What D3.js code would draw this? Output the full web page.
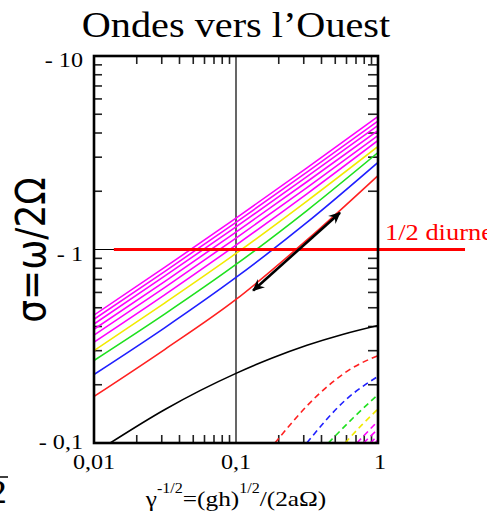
<!DOCTYPE html>
<html><head><meta charset="utf-8">
<script src="https://cdn.jsdelivr.net/npm/d3@7"></script>
<style>html,body{margin:0;padding:0;background:#fff;overflow:hidden}</style>
</head><body>
<svg id="c" width="487" height="523"></svg>
<script>
// ---- data ----
const xTickValues = [0.01, 0.1, 1];
const xTickLabels = ["0,01", "0,1", "1"];
const yTickValues = [0.1, 1, 10];
const yTickLabels = ["- 0,1", "- 1", "- 10"];

// westward gravity waves (solid): sigma at these gamma^-1/2 values
const gravX = [0.01, 0.0316, 0.1, 0.316, 1];
const gravRed     = [0.174, 0.305, 0.552, 1.12, 2.41];
const gravBlue    = [0.226, 0.395, 0.717, 1.38, 2.82];
const gravGreen   = [0.267, 0.465, 0.837, 1.59, 3.17];
const gravYellow  = [0.300, 0.530, 0.954, 1.78, 3.41];
const gravMag1    = [0.332, 0.585, 1.054, 1.94, 3.66];
const gravMag2    = [0.361, 0.637, 1.145, 2.09, 3.88];
const gravMag3    = [0.387, 0.685, 1.229, 2.24, 4.12];
const gravMag4    = [0.412, 0.730, 1.308, 2.38, 4.37];
const gravMag5    = [0.436, 0.771, 1.382, 2.51, 4.61];
const gravMag6    = [0.458, 0.810, 1.453, 2.64, 4.87];

// mixed Rossby-gravity (black solid)
const mrgX = [0.013, 0.0316, 0.0562, 0.1, 0.178, 0.316, 0.562, 1];
const mrgY = [0.1, 0.149, 0.187, 0.229, 0.274, 0.32, 0.364, 0.405];

// Rossby waves (dashed)
const rosRedX = [0.188, 0.37, 0.635, 1];      const rosRedY = [0.1, 0.1746, 0.240, 0.283];
const rosBlueX = [0.315, 0.597, 1];           const rosBlueY = [0.1, 0.168, 0.221];
const rosGreenX = [0.447, 0.67, 1];           const rosGreenY = [0.1, 0.135, 0.178];
const rosYellowX = [0.586, 0.77, 1];          const rosYellowY = [0.1, 0.124, 0.150];
const rosMag1X = [0.71, 1];                   const rosMag1Y = [0.1, 0.130];
const rosMag2X = [0.79, 1];                   const rosMag2Y = [0.1, 0.118];
const rosMag3X = [0.88, 1];                   const rosMag3Y = [0.1, 0.109];
const rosMag4X = [0.953, 1];                  const rosMag4Y = [0.1, 0.104];

// semidiurnal line and arrow
const diurneY = 1;
const diurneX = [0.0138, 4.1];
const arrowX = [0.132, 0.54];
const arrowY = [0.614, 1.55];

// ---- drawing ----
const svg = d3.select("#c");
const L = 94, R = 378, T = 56, B = 443;
const x = d3.scaleLog().domain([0.01, 1]).range([L, R]);
const y = d3.scaleLog().domain([0.1, 10]).range([B, T]);
const SX = 1.15;

function stext(g, px, py, str, size, fam, anchor, color) {
  return g.append("text")
    .attr("transform", `translate(${px},${py}) scale(${SX},1)`)
    .attr("text-anchor", anchor || "start")
    .attr("font-family", fam || "'Liberation Serif', 'Times New Roman', serif")
    .attr("font-size", size)
    .attr("fill", color || "#000")
    .text(str);
}

svg.append("defs").append("clipPath").attr("id", "plot")
  .append("rect").attr("x", L).attr("y", T).attr("width", R - L).attr("height", B - T);

// grid lines at x=0.1 and y=1
svg.append("line").attr("x1", x(0.1)).attr("x2", x(0.1)).attr("y1", T).attr("y2", B)
  .attr("stroke", "#000").attr("stroke-width", 1.2);
svg.append("line").attr("x1", L).attr("x2", R).attr("y1", y(1)).attr("y2", y(1))
  .attr("stroke", "#000").attr("stroke-width", 1.2);

// minor ticks via the log scales
const tl = 8;
const xt = x.ticks().filter(v => Math.abs(Math.log10(v) - Math.round(Math.log10(v))) > 1e-6);
const yt = y.ticks().filter(v => Math.abs(Math.log10(v) - Math.round(Math.log10(v))) > 1e-6);
const tg = svg.append("g").attr("stroke", "#222").attr("stroke-width", 1.6);
xt.forEach(v => {
  tg.append("line").attr("x1", x(v)).attr("x2", x(v)).attr("y1", B).attr("y2", B - tl);
  tg.append("line").attr("x1", x(v)).attr("x2", x(v)).attr("y1", T).attr("y2", T + tl);
});
yt.forEach(v => {
  tg.append("line").attr("x1", L).attr("x2", L + tl).attr("y1", y(v)).attr("y2", y(v));
  tg.append("line").attr("x1", R).attr("x2", R - 10).attr("y1", y(v)).attr("y2", y(v));
});

const line = d3.line().x(d => x(d[0])).y(d => y(d[1])).curve(d3.curveMonotoneX);
const pg = svg.append("g").attr("clip-path", "url(#plot)").attr("fill", "none");

function curve(xs, ys, color, dashed) {
  pg.append("path").datum(xs.map((v, i) => [v, ys[i]]))
    .attr("d", line).attr("stroke", color).attr("stroke-width", 1.6)
    .attr("stroke-dasharray", dashed ? "6,4" : null);
}
const MAG = "#ff00ff";
curve(gravX, gravRed, "#ff2020");
curve(gravX, gravBlue, "#1f1fff");
curve(gravX, gravGreen, "#1ee01e");
curve(gravX, gravYellow, "#f2ea00");
[gravMag1, gravMag2, gravMag3, gravMag4, gravMag5, gravMag6].forEach(s => curve(gravX, s, MAG));
curve(mrgX, mrgY, "#000");
curve(rosRedX, rosRedY, "#ff2020", true);
curve(rosBlueX, rosBlueY, "#1f1fff", true);
curve(rosGreenX, rosGreenY, "#1ee01e", true);
curve(rosYellowX, rosYellowY, "#f2ea00", true);
curve(rosMag1X, rosMag1Y, MAG, true);
curve(rosMag2X, rosMag2Y, MAG, true);
curve(rosMag3X, rosMag3Y, MAG, true);
curve(rosMag4X, rosMag4Y, MAG, true);

// semidiurnal red line
svg.append("line").attr("x1", x(diurneX[0])).attr("x2", x(diurneX[1]))
  .attr("y1", y(diurneY)).attr("y2", y(diurneY))
  .attr("stroke", "#ff0000").attr("stroke-width", 3);

// frame
svg.append("rect").attr("x", L).attr("y", T).attr("width", R - L).attr("height", B - T)
  .attr("fill", "none").attr("stroke", "#000").attr("stroke-width", 2.6);

// double arrow
const mk = svg.select("defs").append("marker").attr("id", "ah")
  .attr("viewBox", "-12 -6 14 12").attr("refX", 0).attr("refY", 0)
  .attr("markerWidth", 14).attr("markerHeight", 12).attr("markerUnits", "userSpaceOnUse")
  .attr("orient", "auto-start-reverse");
mk.append("path").attr("d", "M1,0 L-11,-5.5 L-7,0 L-11,5.5 Z").attr("fill", "#000");
svg.append("line").attr("x1", x(arrowX[0])).attr("y1", y(arrowY[0]))
  .attr("x2", x(arrowX[1])).attr("y2", y(arrowY[1]))
  .attr("stroke", "#000").attr("stroke-width", 2.6)
  .attr("marker-start", "url(#ah)").attr("marker-end", "url(#ah)");

// tick labels
const tf = 21;
yTickValues.forEach((v, i) => {
  const dy = v === 0.1 ? 6 : 11;
  stext(svg, 83, y(v) + dy, yTickLabels[i], tf, null, "end");
});
xTickValues.forEach((v, i) => {
  stext(svg, x(v) + (i === 2 ? 2 : 0), 469, xTickLabels[i], tf, null, "middle");
});

// title
stext(svg, 236, 37, "Ondes vers l\u2019Ouest", 35, null, "middle");

// y label
svg.append("text")
  .attr("transform", `translate(45,250) scale(${SX},1) rotate(-90)`)
  .attr("text-anchor", "middle")
  .attr("font-family", "'DejaVu Sans', sans-serif")
  .attr("font-size", 36)
  .text("\u03c3=\u03c9/2\u03a9");

// x label
const xl = svg.append("text")
  .attr("transform", `translate(236,506) scale(${SX},1)`)
  .attr("text-anchor", "middle")
  .attr("font-family", "'Liberation Serif', 'Times New Roman', serif")
  .attr("font-size", 22);
xl.append("tspan").text("\u03b3");
xl.append("tspan").attr("font-size", 14).attr("dy", -13).text("-1/2");
xl.append("tspan").attr("dy", 13).text("=(gh)");
xl.append("tspan").attr("font-size", 14).attr("dy", -13).text("1/2");
xl.append("tspan").attr("dy", 13).text("/(2a\u03a9)");

// 1/2 diurne
stext(svg, 385, 240, "1/2 diurne", 23, null, "start", "#ff0000");

// fragment at bottom-left edge (partly off-canvas in the reference too)
stext(svg, 7, 503, "2", 34, null, "end");
svg.append("line").attr("x1", 0).attr("x2", 8).attr("y1", 477).attr("y2", 477)
  .attr("stroke", "#000").attr("stroke-width", 1.5);
</script>
</body></html>
